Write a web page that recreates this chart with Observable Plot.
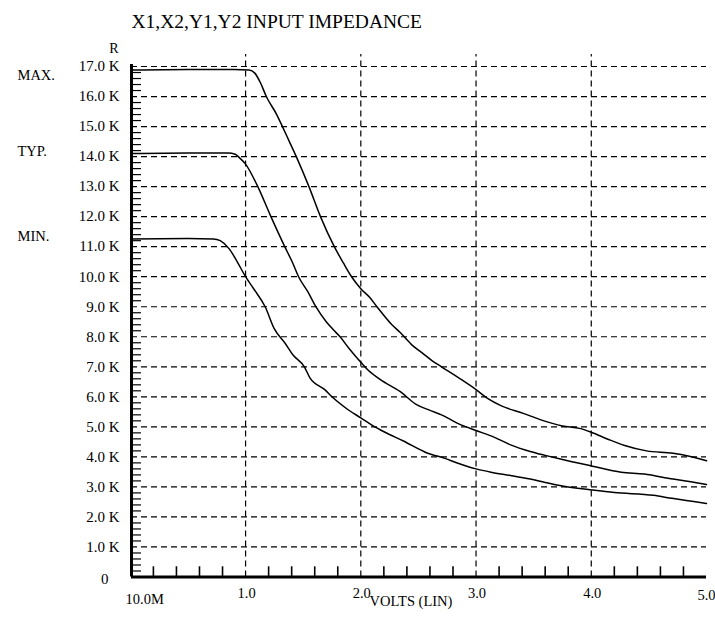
<!DOCTYPE html>
<html>
<head>
<meta charset="utf-8">
<script src="https://cdn.jsdelivr.net/npm/d3@7"></script>
<script src="https://cdn.jsdelivr.net/npm/@observablehq/plot@0.6"></script>
<style>
  html, body { margin: 0; padding: 0; background: #fff; }
  svg { display: block; }
</style>
</head>
<body>
<div id="chart"></div>
<script>
const title = "X1,X2,Y1,Y2 INPUT IMPEDANCE";
const yAxisTitle = "R";
const xAxisTitle = "VOLTS (LIN)";

// Volts (V) and resistance (K ohm) for each curve
const maxV = [0.01, 0.5, 0.9, 1.03, 1.08, 1.13, 1.18, 1.27, 1.32, 1.38, 1.44, 1.55, 1.65, 1.77, 1.85, 1.92, 2.0, 2.08, 2.14, 2.27, 2.34, 2.44, 2.53, 2.62, 2.70, 2.85, 3.0, 3.1, 3.22, 3.41, 3.55, 3.75, 3.9, 4.0, 4.15, 4.29, 4.48, 4.71, 4.85, 5.0];
const maxR = [16.88, 16.9, 16.9, 16.88, 16.78, 16.45, 16.0, 15.4, 15.0, 14.5, 14.0, 13.0, 12.0, 11.0, 10.45, 10.0, 9.6, 9.3, 9.0, 8.4, 8.15, 7.74, 7.47, 7.2, 7.0, 6.63, 6.24, 5.95, 5.7, 5.45, 5.25, 5.03, 4.95, 4.82, 4.58, 4.38, 4.2, 4.12, 4.02, 3.87];

const typV = [0.01, 0.5, 0.85, 0.91, 0.95, 1.0, 1.1, 1.22, 1.34, 1.41, 1.46, 1.54, 1.61, 1.70, 1.76, 1.82, 1.9, 2.0, 2.06, 2.17, 2.34, 2.48, 2.6, 2.70, 2.85, 3.0, 3.16, 3.3, 3.47, 3.6, 3.75, 4.0, 4.26, 4.46, 4.71, 4.85, 5.0];
const typR = [14.1, 14.12, 14.12, 14.08, 13.95, 13.75, 13.05, 12.0, 11.0, 10.45, 10.0, 9.5, 9.0, 8.5, 8.24, 8.0, 7.6, 7.15, 6.9, 6.57, 6.18, 5.75, 5.55, 5.4, 5.1, 4.88, 4.65, 4.4, 4.18, 4.05, 3.91, 3.7, 3.49, 3.43, 3.26, 3.18, 3.08];

const minV = [0.01, 0.5, 0.72, 0.78, 0.86, 0.93, 1.0, 1.07, 1.17, 1.25, 1.34, 1.41, 1.51, 1.56, 1.69, 1.75, 1.89, 2.0, 2.1, 2.21, 2.37, 2.57, 2.73, 2.85, 3.0, 3.13, 3.3, 3.47, 3.6, 3.75, 4.0, 4.2, 4.54, 4.7, 5.0];
const minR = [11.26, 11.27, 11.26, 11.2, 10.92, 10.48, 10.0, 9.6, 9.0, 8.26, 7.8, 7.4, 7.0, 6.62, 6.23, 6.0, 5.57, 5.3, 5.05, 4.82, 4.53, 4.14, 3.95, 3.78, 3.6, 3.49, 3.38, 3.26, 3.15, 3.03, 2.9, 2.81, 2.72, 2.62, 2.45];

const seriesNames = ["MAX.", "TYP.", "MIN."];

const yTicks = [0, 1, 2, 3, 4, 5, 6, 7, 8, 9, 10, 11, 12, 13, 14, 15, 16, 17];
const yTickLabels = ["0", "1.0 K", "2.0 K", "3.0 K", "4.0 K", "5.0 K", "6.0 K", "7.0 K", "8.0 K", "9.0 K", "10.0 K", "11.0 K", "12.0 K", "13.0 K", "14.0 K", "15.0 K", "16.0 K", "17.0 K"];
const xTicks = [0.01, 1, 2, 3, 4, 5];
const xTickLabels = ["10.0M", "1.0", "2.0", "3.0", "4.0", "5.0"];

const xGrid = [1, 2, 3, 4];
const yGrid = yTicks.slice(1);
const xMinor = d3.range(1, 25).map(i => i * 0.2).filter(v => Math.abs(v - Math.round(v)) > 1e-6);
const yMinor = d3.range(1, 85).map(i => i * 0.2).filter(v => Math.abs(v - Math.round(v)) > 1e-6);

const rows = [];
[[maxV, maxR], [typV, typR], [minV, minR]].forEach(([vs, rs], k) => {
  vs.forEach((v, i) => rows.push({series: seriesNames[k], v, r: rs[i]}));
});

const font = "'Liberation Serif', 'Times New Roman', serif";
const dash = {stroke: "black", strokeWidth: 1.2, strokeDasharray: "6,4"};
const txt = {fill: "black", fontSize: 15};

const plot = Plot.plot({
  width: 715,
  height: 619,
  marginLeft: 131,
  marginRight: 9,
  marginTop: 54,
  marginBottom: 42.5,
  x: {domain: [0.01, 5], axis: null},
  y: {domain: [0, 17.4], axis: null},
  style: {fontFamily: font, fontSize: "15px", color: "black", background: "white", overflow: "visible"},
  marks: [
    Plot.ruleY(yGrid, {x1: 0.01, x2: 5, ...dash}),
    Plot.ruleX(xGrid, {y1: 0, y2: 17.4, ...dash}),
    Plot.ruleX(xMinor, {y1: 0, y2: 0.34, stroke: "black", strokeWidth: 1.6}),
    Plot.ruleY(yMinor, {x1: 0.01, x2: 0.01 + 10 / 115.2, stroke: "black", strokeWidth: 1.2}),
    Plot.ruleX([0.01], {y1: 0, y2: 17.07, stroke: "black", strokeWidth: 3}),
    Plot.ruleY([0], {x1: 0.01, x2: 5, stroke: "black", strokeWidth: 3}),
    Plot.line(rows, {x: "v", y: "r", z: "series", stroke: "black", strokeWidth: 1.5, curve: "monotone-x"}),
    // y tick labels
    Plot.text(yTickLabels.slice(1), {x: 0.01, y: yTicks.slice(1), text: d => d, textAnchor: "end", dx: -12, ...txt}),
    Plot.text([yTickLabels[0]], {x: 0.01, y: yTicks[0], text: d => d, textAnchor: "end", dx: -23, dy: 2.5, ...txt}),
    // x tick labels
    Plot.text(xTickLabels.slice(1, 5), {x: xTicks.slice(1, 5), y: 0, text: d => d, dx: 1, dy: 16.5, ...txt, fontSize: 14.5}),
    Plot.text([xTickLabels[0]], {x: xTicks[0], y: 0, text: d => d, textAnchor: "start", dx: -6, dy: 22.5, ...txt, fontSize: 14.5}),
    Plot.text([xTickLabels[5]], {x: xTicks[5], y: 0, text: d => d, dy: 18.5, ...txt, fontSize: 14.5}),
    Plot.text([xAxisTitle], {frameAnchor: "bottom", text: d => d, dx: -8, dy: 28.5, ...txt, fontSize: 14.5}),
    // curve labels at the left
    Plot.text([seriesNames[0]], {x: 0.01, y: maxR[0], text: d => d, textAnchor: "start", dx: -114, dy: 5.5, ...txt, fontSize: 14.5}),
    Plot.text([seriesNames[1]], {x: 0.01, y: typR[0], text: d => d, textAnchor: "start", dx: -114, dy: -2.5, ...txt, fontSize: 14.5}),
    Plot.text([seriesNames[2]], {x: 0.01, y: minR[0], text: d => d, textAnchor: "start", dx: -114, dy: -2.5, ...txt, fontSize: 14.5}),
    // axis and chart titles
    Plot.text([yAxisTitle], {frameAnchor: "top-left", text: d => d, textAnchor: "end", dx: -13, dy: -11.5, ...txt, fontSize: 14}),
    Plot.text([title], {frameAnchor: "top-left", text: d => d, textAnchor: "start", dx: 0, dy: -40, ...txt, fontSize: 19.5})
  ]
});
document.getElementById("chart").appendChild(plot);
</script>
</body>
</html>
